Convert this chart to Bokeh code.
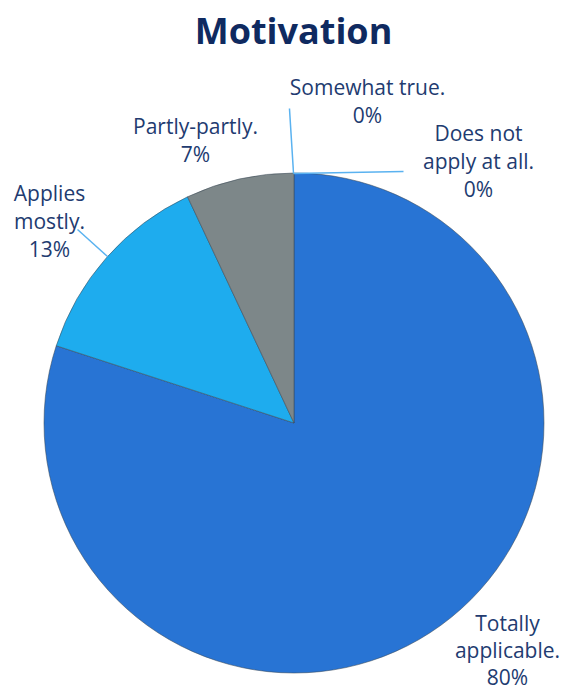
import math
from bokeh.plotting import figure
from bokeh.models import Range1d, ColumnDataSource
from bokeh.core.properties import value
from bokeh.embed import file_html
from bokeh.resources import INLINE

# ---- data ----
title_text = "Motivation"
categories = ["Totally\napplicable.", "Applies\nmostly.", "Partly-partly.", "Somewhat true.", "Does not\napply at all."]
shares = [80, 13, 7, 0, 0]
colors = ["#2874D4", "#1EACEE", "#7D8789", "#5B9BD5", "#A5A5A5"]

# ---- layout (pixel-like coordinates, y up) ----
W, H = 562, 690
def X(img_x):
    return img_x
def Y(img_y):
    return H - img_y

cx, cy, r = X(293.5), Y(422.5), 250
label_pos = [(507, 622), (49, 192), (195, 125), (367, 86), (478, 132)]
line_step = [27, 28, 28, 28, 28]
leaders = [None, ((77, 229), (107, 256)), None, ((293, 173), (289, 108)), ((293, 173), (403, 171))]

p = figure(width=W, height=H, output_backend="svg", toolbar_location=None,
           x_range=Range1d(0, W), y_range=Range1d(0, H), min_border=0)
p.axis.visible = False
p.grid.visible = False
p.outline_line_color = None

total = sum(shares)
starts, ends, cols = [], [], []
acc = 0.0
for s, c in zip(shares, colors):
    a0 = math.pi / 2 - 2 * math.pi * acc / total
    acc += s
    a1 = math.pi / 2 - 2 * math.pi * acc / total
    if s > 0:
        starts.append(a0)
        ends.append(a1)
        cols.append(c)

src = ColumnDataSource(dict(start=starts, end=ends, color=cols))
p.wedge(x=cx, y=cy, radius=r, start_angle="start", end_angle="end", direction="clock",
        fill_color="color", line_color="#3c4a58", line_alpha=0.55, line_width=1, source=src)

# leader lines
for ld in leaders:
    if ld is None:
        continue
    (x0, y0), (x1, y1) = ld
    p.line([X(x0), X(x1)], [Y(y0), Y(y1)], line_color="#5AB2F0", line_width=1.5)

# labels
for cat, s, (lx, ly), st in zip(categories, shares, label_pos, line_step):
    lines = cat.split("\n") + [f"{s}%"]
    for i, t in enumerate(lines):
        p.text(x=[X(lx)], y=[Y(ly + st * i)], text=[t], text_align="center", text_baseline="middle",
               text_font=value("Open Sans"), text_font_size="21px", text_color="#223B70")

p.text(x=[X(293)], y=[Y(30)], text=[title_text], text_align="center", text_baseline="middle",
       text_font=value("Open Sans"), text_font_style="bold", text_font_size="36px", text_color="#0F2A60")

open("out.html", "w").write(file_html(p, INLINE))
